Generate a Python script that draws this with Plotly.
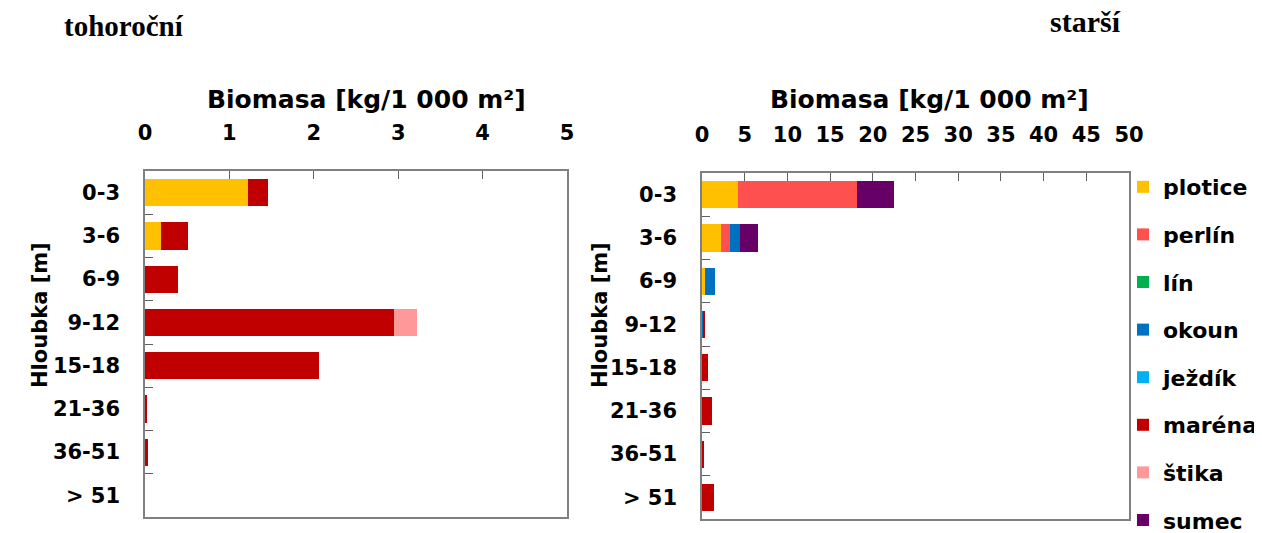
import plotly.graph_objects as go

depths = ["0-3", "3-6", "6-9", "9-12", "15-18", "21-36", "36-51", "> 51"]
species = ["plotice", "perlín", "lín", "okoun", "ježdík", "maréna", "štika", "sumec"]
colors = ["#FFC000", "#FF5050", "#00B050", "#0070C0", "#00B0F0", "#C00000", "#FF9999", "#660066"]

# tohoroční (young-of-the-year) biomass, kg/1000 m2
yoy = {
    "plotice": [1.22, 0.19, 0, 0, 0, 0, 0, 0],
    "perlín":  [0, 0, 0, 0, 0, 0, 0, 0],
    "lín":     [0, 0, 0, 0, 0, 0, 0, 0],
    "okoun":   [0, 0, 0, 0, 0, 0, 0, 0],
    "ježdík":  [0, 0, 0, 0, 0, 0, 0, 0],
    "maréna":  [0.24, 0.32, 0.39, 2.95, 2.06, 0.02, 0.04, 0],
    "štika":   [0, 0, 0, 0.27, 0, 0, 0, 0],
    "sumec":   [0, 0, 0, 0, 0, 0, 0, 0],
}
# starší (older) biomass, kg/1000 m2
older = {
    "plotice": [4.26, 2.27, 0.39, 0, 0, 0, 0, 0],
    "perlín":  [13.84, 1.05, 0, 0, 0, 0, 0, 0],
    "lín":     [0, 0, 0, 0, 0, 0, 0, 0],
    "okoun":   [0, 1.09, 1.17, 0.16, 0, 0, 0, 0],
    "ježdík":  [0, 0, 0, 0, 0, 0, 0, 0],
    "maréna":  [0, 0, 0, 0.2, 0.66, 1.17, 0.12, 1.44],
    "štika":   [0, 0, 0, 0, 0, 0, 0, 0],
    "sumec":   [4.35, 2.11, 0, 0, 0, 0, 0, 0],
}
left_ticks = [0, 1, 2, 3, 4, 5]
right_ticks = [0, 5, 10, 15, 20, 25, 30, 35, 40, 45, 50]

# page has an 8px body margin, so the figure is slightly smaller
OFF = 8
W, H = 1262 - OFF, 533 - OFF

def fx(px):
    return (px - OFF) / W

def fy(py):
    return 1 - (py - OFF) / H

BOLD = "DejaVu Sans"
fig = go.Figure()

for sp, col in zip(species, colors):
    fig.add_trace(go.Bar(y=depths, x=yoy[sp], orientation="h", name=sp,
                         marker=dict(color=col, line=dict(width=0)),
                         xaxis="x", yaxis="y", showlegend=False, legendgroup=sp))
for sp, col in zip(species, colors):
    fig.add_trace(go.Bar(y=depths, x=older[sp], orientation="h", name=sp,
                         marker=dict(color=col, line=dict(width=0)),
                         xaxis="x2", yaxis="y2", showlegend=True, legendgroup=sp))

tickfont = dict(family=BOLD, size=21, color="black", weight="bold")
axis_line = dict(showline=True, linecolor="#808080", linewidth=1.5, mirror=True,
                 ticks="inside", ticklen=8, tickcolor="#606060", showgrid=False,
                 zeroline=False, automargin=False)

def xax(domain, ticks, rng, anchor):
    return dict(domain=domain, range=rng, tickvals=ticks, side="top", anchor=anchor,
                tickfont=tickfont, ticklabelstandoff=21, **axis_line)

def yax(domain, anchor):
    return dict(domain=domain, anchor=anchor, autorange="reversed", type="category",
                categoryorder="array", categoryarray=depths,
                tickson="boundaries", tickfont=tickfont, ticklabelstandoff=19,
                **axis_line)

def label(text, px, py, size, family=BOLD, angle=0, xanchor="center"):
    return dict(text=text, x=fx(px), y=fy(py), xref="paper", yref="paper",
                xanchor=xanchor, yanchor="middle", showarrow=False, textangle=angle,
                font=dict(family=family, size=size, color="black", weight="bold"))

fig.update_layout(
    width=W, height=H,
    margin=dict(l=0, r=0, t=0, b=0, autoexpand=False),
    paper_bgcolor="white", plot_bgcolor="white",
    barmode="stack", bargap=0.37,
    xaxis=xax([fx(145), fx(567)], left_ticks, [0, 5], "y"),
    yaxis=yax([fy(517), fy(171)], "x"),
    xaxis2=xax([fx(702), fx(1129)], right_ticks, [0, 50], "y2"),
    yaxis2=yax([fy(519), fy(173)], "x2"),
    legend=dict(x=fx(1123), y=fy(166), xanchor="left", yanchor="top",
                traceorder="grouped", tracegroupgap=16,
                font=dict(family=BOLD, size=22, color="black", weight="bold"),
                bgcolor="rgba(0,0,0,0)", itemwidth=30),
    showlegend=True,
    annotations=[
        label("tohoroční", 62, 26, 29, family="Liberation Serif", xanchor="left"),
        label("starší", 1048, 21, 30, family="Liberation Serif", xanchor="left"),
        label("Biomasa [kg/1 000 m²]", 366, 100, 25),
        label("Biomasa [kg/1 000 m²]", 929, 100, 25),
        label("Hloubka [m]", 40, 315, 21, angle=-90),
        label("Hloubka [m]", 600, 315, 21, angle=-90),
    ],
)

fig.write_html("out.html")
